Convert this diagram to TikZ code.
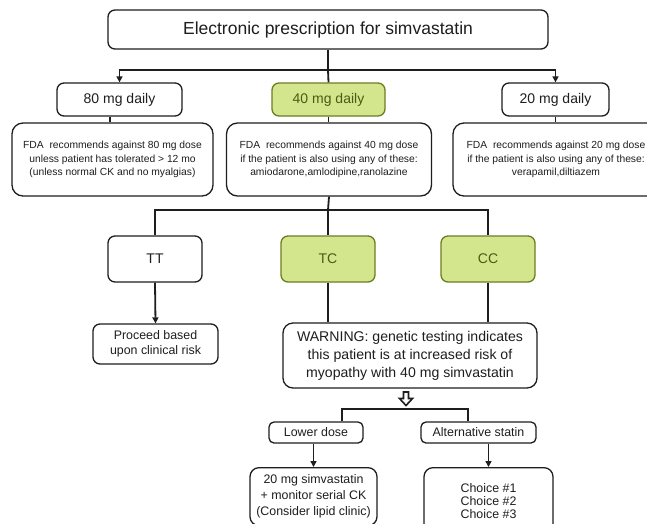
\documentclass[tikz,border=0pt]{standalone}
\usepackage{fontspec}
\setmainfont{Liberation Sans}
\usetikzlibrary{arrows.meta}
\definecolor{gfill}{HTML}{D3E58D}
\definecolor{gdraw}{HTML}{6E7D22}
\definecolor{gtext}{HTML}{4D5A12}
\definecolor{ink}{HTML}{1E1E1E}
\newcommand{\fsz}[2]{\fontsize{#1}{#2}\selectfont}
\begin{document}
\begin{tikzpicture}[x=1pt,y=-1pt,
 box/.style={draw=ink, line width=1.3pt, rounded corners=7pt, fill=white, align=center, text=ink, inner sep=0pt},
 gbox/.style={box, draw=gdraw, fill=gfill, text=gtext},
 conn/.style={draw=ink, line width=1.8pt},
 arr/.style={conn, -{Triangle[width=6pt,length=6pt]}},
 dose/.style={minimum height=33pt, font=\fsz{14}{16}},
 fda/.style={box, rounded corners=11pt, minimum width=#1, minimum height=73pt, font=\fsz{10.3}{13.7}},
 geno/.style={minimum width=94pt, minimum height=46pt, font=\fsz{14}{16}},
 small/.style={font=\fsz{12.4}{15}},
]
\clip (0,0) rectangle (647,523);
\fill[white] (0,0) rectangle (647,523);

\node[box, minimum width=440pt, minimum height=39pt, font=\fsz{17.5}{20}] (title) at (328,29.5) {Electronic prescription for simvastatin};

\node[box, dose, minimum width=125pt] (d80) at (119.5,99.5) {80 mg daily};
\node[gbox, dose, minimum width=113pt] (d40) at (328.5,99.5) {40 mg daily};
\node[box, dose, minimum width=107pt] (d20) at (555.5,99.5) {20 mg daily};

\node[fda=201pt] (f80) at (112.5,159.5) {FDA\ \ recommends against 80 mg dose\\unless patient has tolerated > 12 mo\\(unless normal CK and no myalgias)};
\node[fda=205pt] (f40) at (329,159.5) {FDA\ \ recommends against 40 mg dose\\if the patient is also using any of these:\\amiodarone,amlodipine,ranolazine};
\node[fda=206pt] (f20) at (556,159.5) {FDA\ \ recommends against 20 mg dose\\if the patient is also using any of these:\\verapamil,diltiazem};

\node[box, geno] (tt) at (155,259) {TT};
\node[gbox, geno] (tc) at (328,259) {TC};
\node[gbox, geno] (cc) at (488,259) {CC};

\node[box, small, minimum width=125pt, minimum height=40pt] (proc) at (155.5,344) {Proceed based\\upon clinical risk};
\node[box, rounded corners=10pt, minimum width=254pt, minimum height=65pt, font=\fsz{14.1}{18}] (warn) at (410,355.5) {WARNING: genetic testing indicates\\this patient is at increased risk of\\myopathy with 40 mg simvastatin};

\node[box, small, rounded corners=5pt, minimum width=94pt, minimum height=21pt] (lower) at (316,432.5) {Lower dose};
\node[box, small, rounded corners=5pt, minimum width=115pt, minimum height=21pt] (alt) at (478.5,432.5) {Alternative statin};

\node[box, rounded corners=9pt, anchor=north, font=\fsz{12.4}{16}, minimum width=127pt, minimum height=58pt] (sim) at (313.5,467) {20 mg simvastatin\\+ monitor serial CK\\(Consider lipid clinic)};
\node[box, rounded corners=9pt, anchor=north, font=\fsz{12.4}{13}, minimum width=129pt, minimum height=66pt] (choice) at (488.5,467) {Choice \#1\\Choice \#2\\Choice \#3};

% connectors
\coordinate (j1) at (328,70);
\coordinate (x80) at (110,0);
\coordinate (j2) at (328,210);
\coordinate (jl) at (342,409);
\coordinate (jr) at (468,409);

\draw[conn, line width=2.4pt] (title.south) -- (j1);
\draw[arr] (j1) -| (d80.north);
\draw[arr] (j1) -| (d20.north);
\draw[conn] (j1) -- (d40.north);

\draw[conn] (d80.south -| x80) -- (f80.north -| x80);
\draw[conn] (d40.south) -- (d40.south |- f40.north);
\draw[conn] (d20.south) -- (d20.south |- f20.north);

\draw[conn] (f40.south) -- (j2);
\draw[conn] (j2) -| (tt.north);
\draw[conn] (j2) -| (cc.north);
\draw[conn] (j2) -- (tc.north);

\draw[arr] (tt.south) -- (proc.north);
\draw[conn] (tc.south) -- (tc.south |- warn.north);
\draw[conn] (cc.south) -- (cc.south |- warn.north);

% hollow arrow
\draw[draw=ink, line width=1.6pt, line join=miter] (403.5,392) -- (408.5,392) -- (408.5,398.5) -- (412.5,398.5) -- (406,405.5) -- (399.5,398.5) -- (403.5,398.5) -- cycle;

\draw[conn, line width=1.6pt] (lower.north -| jl) -- (jl) -- (jr) -- (alt.north -| jr);
\draw[arr, line width=1.6pt] (lower.south -| sim.north) -- (sim.north);
\draw[arr, line width=1.6pt] (alt.south -| choice.north) -- (choice.north);
\end{tikzpicture}
\end{document}
